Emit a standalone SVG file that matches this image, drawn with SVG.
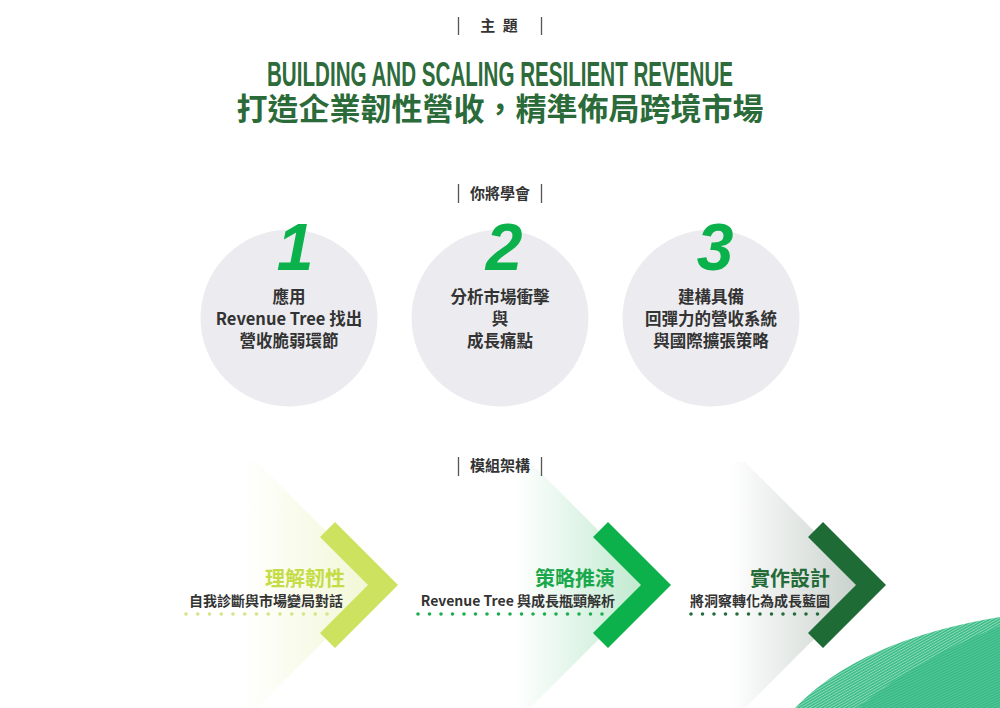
<svg xmlns="http://www.w3.org/2000/svg" width="1000" height="708" viewBox="0 0 1000 708">
<defs>
<style>
.lbl{font-family:"Noto Sans CJK TC","Noto Sans CJK SC",sans-serif;font-weight:700;font-size:15px;fill:#333333;text-anchor:middle}
.bar{stroke:#555555;stroke-width:1.3}
.circ{fill:#ececf0}
.num{font-family:"Liberation Sans",Arial,sans-serif;font-weight:700;font-style:italic;font-size:66px;fill:#0bb14a;text-anchor:middle}
.ctext{font-family:"Noto Sans CJK TC","Noto Sans CJK SC",sans-serif;font-weight:700;font-size:16.5px;fill:#333333;text-anchor:middle}
.mtitle{font-family:"Noto Sans CJK TC","Noto Sans CJK SC",sans-serif;font-weight:700;font-size:20px;text-anchor:end}
.msub{font-family:"Noto Sans CJK TC","Noto Sans CJK SC",sans-serif;font-weight:700;font-size:14px;fill:#333333;text-anchor:end}
.dots{stroke-linecap:round;stroke-width:3.6;fill:none}
</style>
<linearGradient id="fade1" gradientUnits="userSpaceOnUse" x1="242" y1="0" x2="380" y2="0">
<stop offset="0" stop-color="#cfe36a" stop-opacity="0"/>
<stop offset="1" stop-color="#cfe36a" stop-opacity="0.3"/>
</linearGradient>
<linearGradient id="fade2" gradientUnits="userSpaceOnUse" x1="515" y1="0" x2="653" y2="0">
<stop offset="0" stop-color="#1db354" stop-opacity="0"/>
<stop offset="1" stop-color="#1db354" stop-opacity="0.3"/>
</linearGradient>
<linearGradient id="fade3" gradientUnits="userSpaceOnUse" x1="730" y1="0" x2="868" y2="0">
<stop offset="0" stop-color="#6d8577" stop-opacity="0"/>
<stop offset="1" stop-color="#6d8577" stop-opacity="0.4"/>
</linearGradient>
<pattern id="stripeA" width="2.4" height="2.4" patternUnits="userSpaceOnUse" patternTransform="rotate(-30)">
<rect width="2.4" height="2.4" fill="#3fbe8a"/>
<rect width="2.4" height="0.7" fill="#ffffff" fill-opacity="0.5"/>
</pattern>
<pattern id="stripeB" width="2.4" height="2.4" patternUnits="userSpaceOnUse" patternTransform="rotate(-26)">
<rect width="2.4" height="2.4" fill="#38bb86"/>
<rect width="2.4" height="0.6" fill="#ffffff" fill-opacity="0.22"/>
</pattern>
</defs>
<rect width="1000" height="708" fill="#ffffff"/>

<g id="header-theme">
<line class="bar" x1="458.5" y1="17" x2="458.5" y2="35"/>
<line class="bar" x1="541.5" y1="17" x2="541.5" y2="35"/>
<text class="lbl" x="500" y="31" letter-spacing="2">主 題</text>
</g>

<g id="title">
<text x="267" y="86" textLength="466" lengthAdjust="spacingAndGlyphs" font-family="'Liberation Sans Narrow','Liberation Sans',Arial,sans-serif" font-weight="700" font-size="35" fill="#2e6b3b">BUILDING AND SCALING RESILIENT REVENUE</text>
<text x="500" y="120" text-anchor="middle" font-family="'Noto Sans CJK TC','Noto Sans CJK SC',sans-serif" font-weight="700" font-size="31" fill="#2b6a39">打造企業韌性營收，精準佈局跨境市場</text>
</g>

<g id="header-learn">
<line class="bar" x1="458.5" y1="184" x2="458.5" y2="203"/>
<line class="bar" x1="541.5" y1="184" x2="541.5" y2="203"/>
<text class="lbl" x="500" y="199">你將學會</text>
</g>

<g id="learn-1">
<circle class="circ" cx="289" cy="318" r="88.5"/>
<text class="num" x="295" y="270">1</text>
<text class="ctext" x="289" y="303">應用</text>
<text class="ctext" x="289" y="325">Revenue Tree 找出</text>
<text class="ctext" x="289" y="347">營收脆弱環節</text>
</g>
<g id="learn-2">
<circle class="circ" cx="500" cy="318" r="88.5"/>
<text class="num" x="504" y="270">2</text>
<text class="ctext" x="500" y="303">分析市場衝擊</text>
<text class="ctext" x="500" y="325">與</text>
<text class="ctext" x="500" y="347">成長痛點</text>
</g>
<g id="learn-3">
<circle class="circ" cx="711" cy="318" r="88.5"/>
<text class="num" x="715" y="270">3</text>
<text class="ctext" x="711" y="303">建構具備</text>
<text class="ctext" x="711" y="325">回彈力的營收系統</text>
<text class="ctext" x="711" y="347">與國際擴張策略</text>
</g>

<g id="module-1">
<polygon points="242,462 257,462 380,585 257,708 242,708" fill="url(#fade1)"/>
<polygon points="335,522 398,585 335,648 320,633 368,585 320,537" fill="#cde25e"/>
<text class="mtitle" x="345" y="586" fill="#c5dc45">理解韌性</text>
<text class="msub" x="343" y="606">自我診斷與市場變局對話</text>
<line class="dots" x1="186" y1="614" x2="327.5" y2="614" stroke="#d3e585" stroke-dasharray="0 11.75"/>
</g>

<g id="module-2">
<polygon points="515,462 530,462 653,585 530,708 515,708" fill="url(#fade2)"/>
<polygon points="608,522 671,585 608,648 593,633 641,585 593,537" fill="#0db14b"/>
<text class="mtitle" x="615" y="586" fill="#1aa84c">策略推演</text>
<text class="msub" x="615" y="606">Revenue Tree 與成長瓶頸解析</text>
<line class="dots" x1="418" y1="614" x2="602.5" y2="614" stroke="#1cae4e" stroke-dasharray="0 11.5"/>
</g>

<g id="module-3">
<polygon points="730,462 745,462 868,585 745,708 730,708" fill="url(#fade3)"/>
<polygon points="823,522 886,585 823,648 808,633 856,585 808,537" fill="#1f6b35"/>
<text class="mtitle" x="830" y="586" fill="#236b37">實作設計</text>
<text class="msub" x="830" y="606">將洞察轉化為成長藍圖</text>
<line class="dots" x1="691" y1="614" x2="818.5" y2="614" stroke="#256b3a" stroke-dasharray="0 11.5"/>
</g>

<g id="header-modules">
<line class="bar" x1="458.5" y1="457" x2="458.5" y2="476"/>
<line class="bar" x1="541.5" y1="457" x2="541.5" y2="476"/>
<text class="lbl" x="500" y="471">模組架構</text>
</g>

<g id="decoration">
<path d="M795,708 Q860,640 1000,617 L1000,708 Z" fill="url(#stripeA)"/>
<path d="M858,708 Q912,662 1000,626 L1000,708 Z" fill="url(#stripeB)"/>
</g>
</svg>
